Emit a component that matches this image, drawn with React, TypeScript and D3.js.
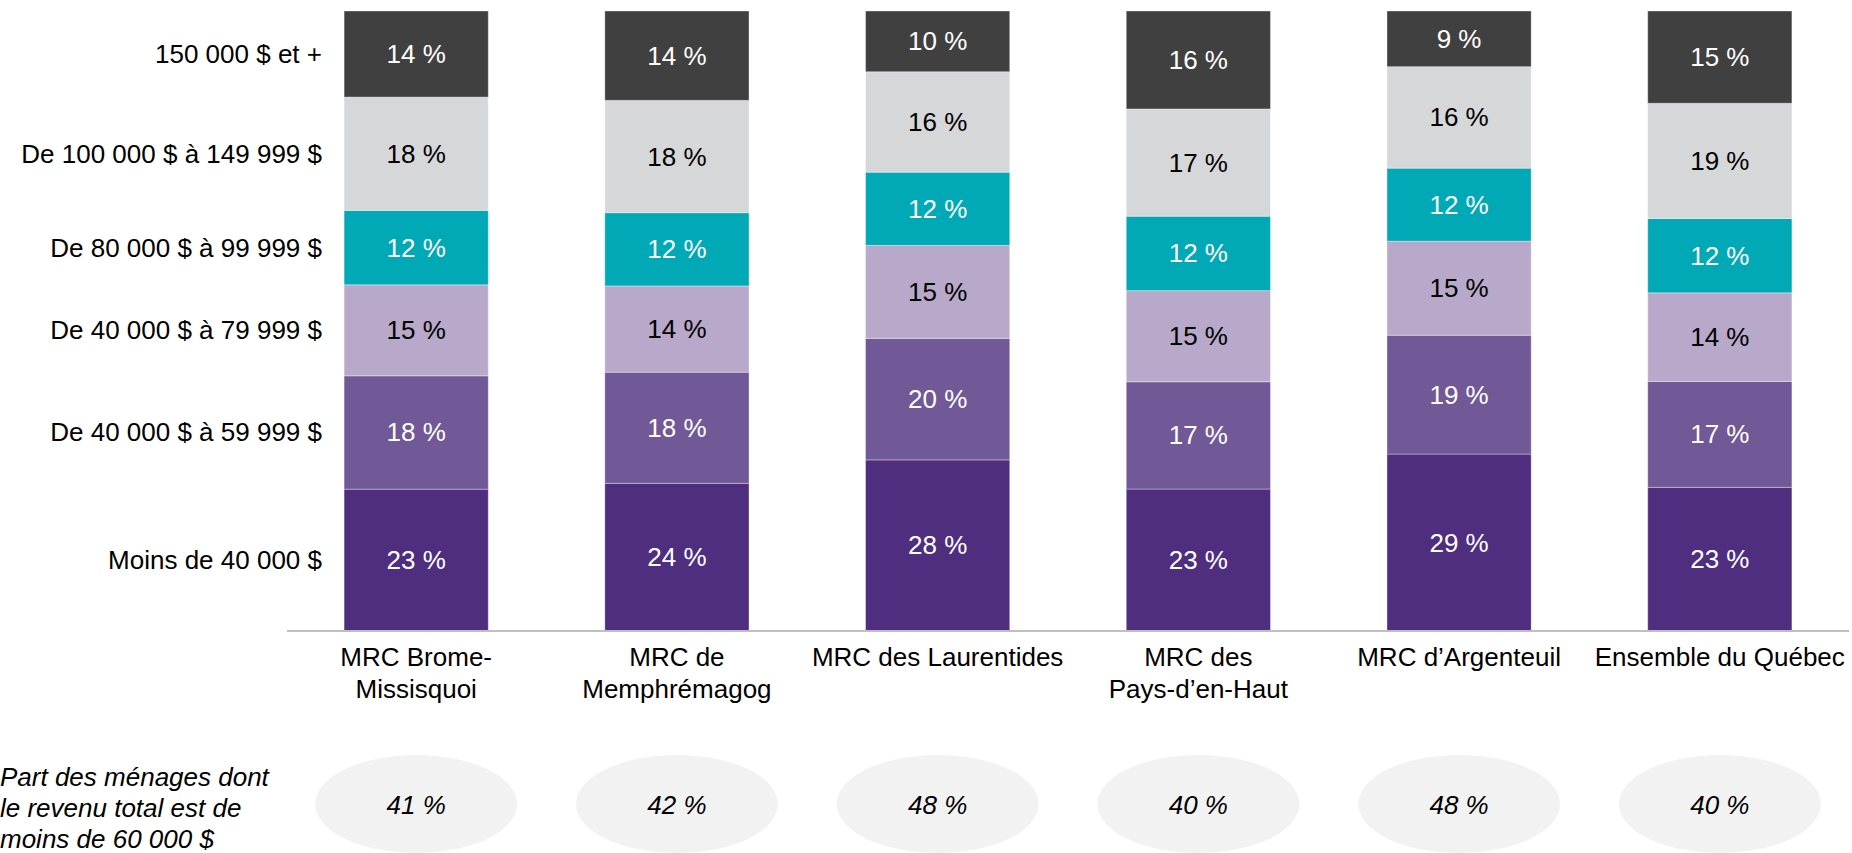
import React from "react";
import * as d3 from "d3";

const categories = [
  "MRC Brome-Missisquoi",
  "MRC de Memphrémagog",
  "MRC des Laurentides",
  "MRC des Pays-d'en-Haut",
  "MRC d'Argenteuil",
  "Ensemble du Québec",
];
const categoryLines = [
  ["MRC Brome-", "Missisquoi"],
  ["MRC de", "Memphrémagog"],
  ["MRC des Laurentides"],
  ["MRC des", "Pays-d\u2019en-Haut"],
  ["MRC d\u2019Argenteuil"],
  ["Ensemble du Québec"],
];

const seriesNames = [
  "Moins de 40 000 $",
  "De 40 000 $ à 59 999 $",
  "De 40 000 $ à 79 999 $",
  "De 80 000 $ à 99 999 $",
  "De 100 000 $ à 149 999 $",
  "150 000 $ et +",
];
const moins40 = [22.9, 23.8, 27.6, 22.9, 28.6, 23.2];
const de40a59 = [18.3, 17.9, 19.6, 17.3, 19.2, 17.1];
const de40a79 = [14.7, 13.9, 15.0, 14.7, 15.2, 14.3];
const de80a99 = [12.0, 11.8, 11.8, 12.0, 11.8, 12.0];
const de100a149 = [18.3, 18.1, 16.2, 17.3, 16.4, 18.6];
const plus150 = [13.9, 14.4, 9.8, 15.8, 9.0, 14.9];
const seriesValues = [moins40, de40a59, de40a79, de80a99, de100a149, plus150];

const moins60 = [41, 42, 48, 40, 48, 40];
const noteLines = ["Part des ménages dont", "le revenu total est de", "moins de 60 000 $"];

const colors = ["#4F2D7F", "#715896", "#B8A9CB", "#00A9B5", "#D6D7D9", "#404040"];
const labelColors = ["#FFFFFF", "#FFFFFF", "#000000", "#FFFFFF", "#000000", "#FFFFFF"];

const W = 1852;
const H = 853;
const FONT = "'Liberation Sans', Arial, sans-serif";
const FS = 26;

export default function App() {
  const rows = categories.map((c, i) => {
    const r: any = { cat: c };
    seriesNames.forEach((s, j) => (r[s] = seriesValues[j][i]));
    return r;
  });
  const stack = d3.stack<any>().keys(seriesNames).offset(d3.stackOffsetExpand);
  const layers = stack(rows);

  const x = d3
    .scaleBand<string>()
    .domain(categories)
    .range([287, 1849])
    .paddingInner(0.447)
    .paddingOuter(0.219);
  const y = d3.scaleLinear().domain([0, 1]).range([631, 11]);
  const bw = x.bandwidth();

  return (
    <svg
      width={W}
      height={H}
      style={{ position: "absolute", left: 0, top: 0, background: "#fff" }}
      fontFamily={FONT}
    >
      {layers.map((layer, j) => (
        <g key={j}>
          {layer.map((d, i) => {
            const y0 = y(d[0]);
            const y1 = y(d[1]);
            const xx = x(categories[i]) as number;
            return (
              <g key={i}>
                <rect
                  x={xx}
                  y={y1}
                  width={bw}
                  height={y0 - y1}
                  fill={colors[j]}
                  stroke="rgba(255,255,255,0.35)"
                  strokeWidth={1}
                />
                <text
                  x={xx + bw / 2}
                  y={(y0 + y1) / 2}
                  textAnchor="middle"
                  dominantBaseline="central"
                  fontSize={FS}
                  fill={labelColors[j]}
                >
                  {Math.round(seriesValues[j][i]) + " %"}
                </text>
              </g>
            );
          })}
        </g>
      ))}

      {/* series labels aligned to first bar */}
      {layers.map((layer, j) => {
        const d = layer[0];
        return (
          <text
            key={"s" + j}
            x={322}
            y={(y(d[0]) + y(d[1])) / 2}
            textAnchor="end"
            dominantBaseline="central"
            fontSize={FS}
            fill="#000"
          >
            {seriesNames[j]}
          </text>
        );
      })}

      {/* axis line */}
      <line x1={287} x2={1849} y1={631} y2={631} stroke="#BFBFBF" strokeWidth={2} />

      {/* category labels */}
      {categories.map((c, i) => (
        <text
          key={"c" + i}
          x={(x(c) as number) + bw / 2}
          textAnchor="middle"
          fontSize={FS}
          fill="#000"
        >
          {categoryLines[i].map((l, k) => (
            <tspan key={k} x={(x(c) as number) + bw / 2} y={666 + k * 32}>
              {l}
            </tspan>
          ))}
        </text>
      ))}

      {/* ellipses */}
      {categories.map((c, i) => {
        const cx = (x(c) as number) + bw / 2;
        return (
          <g key={"e" + i}>
            <ellipse cx={cx} cy={804} rx={101} ry={49} fill="#F2F2F2" />
            <text
              x={cx}
              y={805}
              textAnchor="middle"
              dominantBaseline="central"
              fontSize={FS}
              fontStyle="italic"
              fill="#000"
            >
              {moins60[i] + " %"}
            </text>
          </g>
        );
      })}

      {/* note */}
      <text fontSize={FS} fontStyle="italic" fill="#000">
        {noteLines.map((l, k) => (
          <tspan key={k} x={0} y={786 + k * 31}>
            {l}
          </tspan>
        ))}
      </text>
    </svg>
  );
}
